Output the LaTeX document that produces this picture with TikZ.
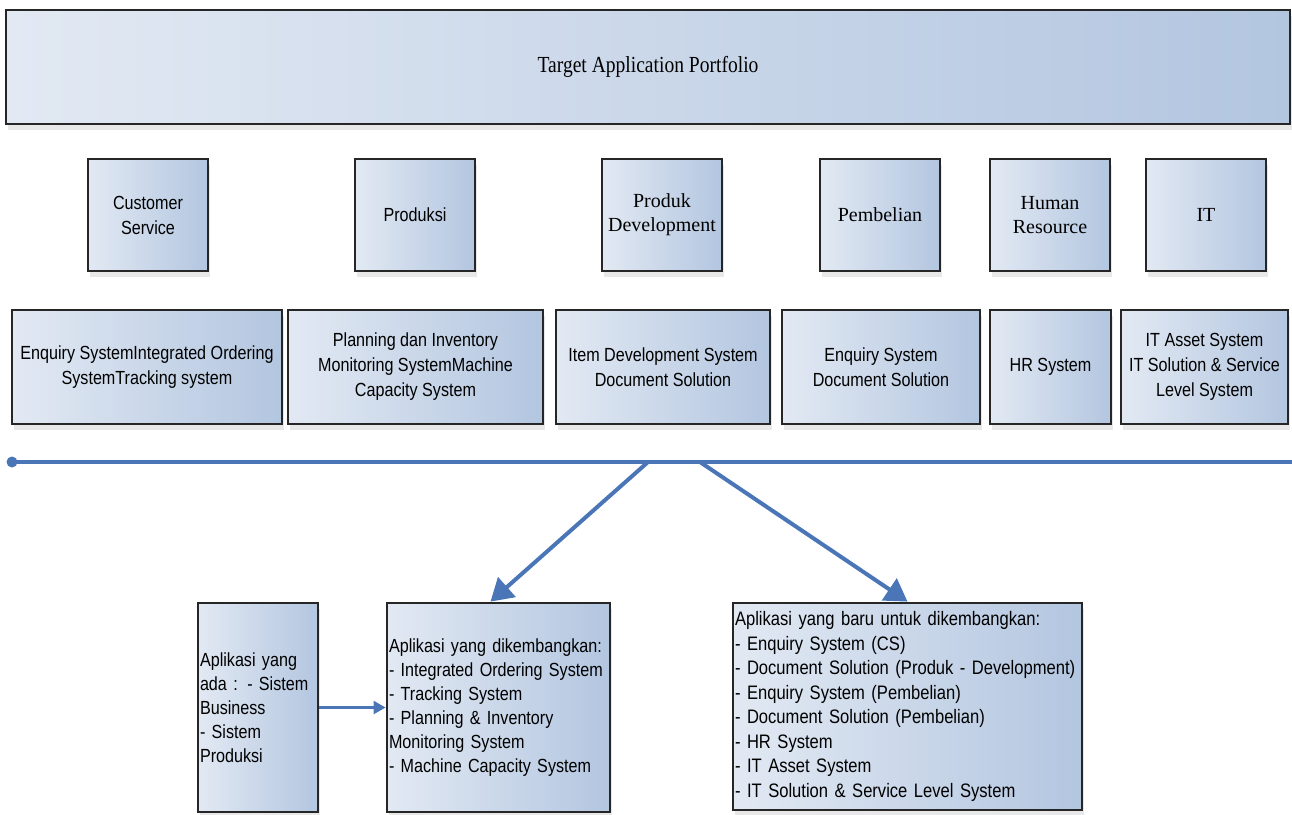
\documentclass[tikz,border=0pt]{standalone}
\usepackage{fontspec}
\setmainfont{Liberation Serif}
\newfontfamily\narrowsans[FakeStretch=0.85]{Liberation Sans}
\newfontfamily\narrowserif[FakeStretch=0.85]{Liberation Serif}
\usetikzlibrary{arrows.meta,shadows}

\definecolor{boxlight}{HTML}{E2E9F3}
\definecolor{boxdark}{HTML}{B3C6E0}
\definecolor{busblue}{HTML}{4A76B8}

\tikzset{
  panel/.style={draw=black!85,line width=2.8pt,left color=boxlight,right color=boxdark,
    drop shadow={shadow xshift=2pt,shadow yshift=-6pt,opacity=0.18},inner sep=1pt},
  dept/.style={panel,minimum width=120pt,minimum height=112pt,align=center,
    font=\fontsize{20}{24}\selectfont},
  sysbox/.style={panel,minimum height=114pt,align=center,
    font=\narrowsans\fontsize{19}{25}\selectfont},
  appbox/.style={panel,align=left,font=\narrowsans\fontsize{19}{24}\selectfont},
  bus/.style={busblue,line width=4pt},
  flow/.style={busblue,line width=4pt,-{Triangle[length=22pt,width=26pt]}}
}

\begin{document}
\begin{tikzpicture}[x=1pt,y=-1pt]
\useasboundingbox (0,0) rectangle (1292,814);

% portfolio banner
\node[panel,minimum width=1284pt,minimum height=114pt,
      font=\narrowserif\fontsize{23}{27}\selectfont] (portfolio) at (648,67) {Target Application Portfolio};

% departments
\node[dept,font=\narrowsans\fontsize{19}{25}\selectfont] (cs) at (148,215) {Customer\\Service};
\node[dept,font=\narrowsans\fontsize{19}{25}\selectfont] (prod) at (415,215) {Produksi};
\node[dept] (pdev) at (662,215) {Produk\\Development};
\node[dept] (beli) at (880,215) {Pembelian};
\node[dept] (hr)   at (1050,215) {Human\\Resource};
\node[dept] (it)   at (1206,215) {IT};

% systems per department
\node[sysbox,minimum width=270pt] (cssys)   at (147,367) {Enquiry SystemIntegrated Ordering\\SystemTracking system};
\node[sysbox,minimum width=255pt] (prodsys) at (415.5,367) {Planning dan Inventory\\Monitoring SystemMachine\\Capacity System};
\node[sysbox,minimum width=214pt] (pdevsys) at (663,367) {Item Development System\\Document Solution};
\node[sysbox,minimum width=198pt] (belisys) at (881,367) {Enquiry System\\Document Solution};
\node[sysbox,minimum width=121pt] (hrsys)   at (1050.5,367) {HR System};
\node[sysbox,minimum width=167pt] (itsys)   at (1204.5,367) {IT Asset System\\IT Solution \& Service\\Level System};

% bus line
\coordinate (busstart) at (12,462);
\coordinate (busend) at (1292,462);
\coordinate (busl) at (648,462);
\coordinate (busr) at (700,462);
\draw[bus] (busstart) -- (busend);
\fill[busblue] (busstart) circle (5.5);

% application groups
\node[appbox,minimum width=120pt,minimum height=209pt,text width=116pt] (ada) at (258,707.5)
  {Aplikasi yang\\ada : - Sistem\\Business\\- Sistem\\Produksi};
\node[appbox,minimum width=223pt,minimum height=209pt,text width=219pt] (kembang) at (498.5,707.5)
  {Aplikasi yang dikembangkan:\\- Integrated Ordering System\\- Tracking System\\- Planning \& Inventory\\Monitoring System\\- Machine Capacity System};
\node[appbox,minimum width=349pt,minimum height=207pt,text width=345pt,
      font=\narrowsans\fontsize{19.5}{24.5}\selectfont] (baru) at (907.5,706.5)
  {Aplikasi yang baru untuk dikembangkan:\\- Enquiry System (CS)\\- Document Solution (Produk - Development)\\- Enquiry System (Pembelian)\\- Document Solution (Pembelian)\\- HR System\\- IT Asset System\\- IT Solution \& Service Level System};

% connectors
\draw[flow] (busl) -- ([xshift=-8pt]kembang.north);
\draw[flow] (busr) -- (baru.north);
\draw[busblue,line width=2.2pt,-{Triangle[length=12pt,width=13pt]}] (ada) -- (kembang);
\end{tikzpicture}
\end{document}
